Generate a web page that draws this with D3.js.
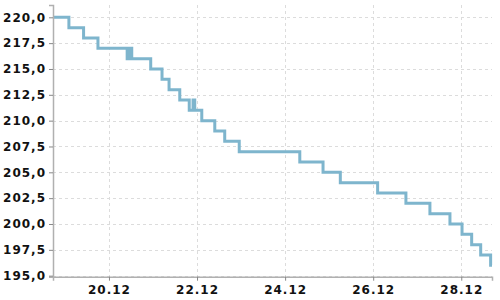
<!doctype html>
<html>
<head>
<meta charset="utf-8">
<script src="https://d3js.org/d3.v7.min.js"></script>
<style>
  body { margin: 0; background: #fff; }
  text { font-family: "DejaVu Sans", sans-serif; }
</style>
</head>
<body>
<script>
// step line data: timestamps (dd.mm HH:MM) and values
var times = ["18.12 17:30", "19.12 02:10", "19.12 10:10", "19.12 18:00", "20.12 09:55", "20.12 11:20",
             "20.12 12:25", "20.12 22:45", "21.12 04:55", "21.12 08:45", "21.12 14:35", "21.12 19:45",
             "21.12 21:50", "21.12 22:45", "22.12 02:35", "22.12 09:40", "22.12 15:05", "22.12 23:00",
             "24.12 08:00", "24.12 20:40", "25.12 06:05", "26.12 02:25", "26.12 17:50", "27.12 06:55",
             "27.12 17:50", "28.12 00:25", "28.12 05:40", "28.12 10:35", "28.12 16:00", "28.12 16:45"];
var values = [220, 219, 218, 217, 216, 217,
              216, 215, 214, 213, 212, 211,
              212, 211, 210, 209, 208, 207,
              206, 205, 204, 203, 202, 201,
              200, 199, 198, 197, 196, 196];
var yTicks = [195, 197.5, 200, 202.5, 205, 207.5, 210, 212.5, 215, 217.5, 220];
var xTickLabels = ["20.12", "22.12", "24.12", "26.12", "28.12"];

var width = 500, height = 300;
var margin = {top: 5, right: 8, bottom: 23.3, left: 53};

var parseTime = d3.timeParse("%d.%m %H:%M %Y");
var data = times.map(function(t, i) {
  return {date: parseTime(t + " 2023"), value: values[i]};
});
var xTicks = xTickLabels.map(function(t) { return parseTime(t + " 00:00 2023"); });

var svg = d3.select("body").append("svg")
  .attr("width", width)
  .attr("height", height);

var xScale = d3.scaleTime()
  .domain(d3.extent(data, d => d.date))
  .range([margin.left, width - margin.right]);

var yScale = d3.scaleLinear()
  .domain([194.9, 221.19])
  .range([height - margin.bottom, margin.top]);

// grid
svg.append("g")
  .selectAll("line")
  .data(yTicks)
  .join("line")
    .attr("x1", margin.left)
    .attr("x2", width - margin.right)
    .attr("y1", d => Math.round(yScale(d)) + 0.5)
    .attr("y2", d => Math.round(yScale(d)) + 0.5)
    .attr("stroke", "#dcdcdc")
    .attr("stroke-dasharray", "3,3");

svg.append("g")
  .selectAll("line")
  .data(xTicks)
  .join("line")
    .attr("x1", d => Math.round(xScale(d)) + 0.5)
    .attr("x2", d => Math.round(xScale(d)) + 0.5)
    .attr("y1", margin.top)
    .attr("y2", height - margin.bottom)
    .attr("stroke", "#dcdcdc")
    .attr("stroke-dasharray", "3,3");

// the step line
svg.append("path")
  .datum(data)
  .attr("fill", "none")
  .attr("stroke", "#7eb5cd")
  .attr("stroke-width", 3)
  .attr("d", d3.line()
    .curve(d3.curveStepAfter)
    .x(d => xScale(d.date))
    .y(d => yScale(d.value)));

// axes
var fmt = d3.format(".1f");
var yAxis = d3.axisLeft(yScale)
  .tickValues(yTicks)
  .tickSize(4)
  .tickPadding(3)
  .tickFormat(d => fmt(d).replace(".", ","));

var xAxis = d3.axisBottom(xScale)
  .tickValues(xTicks)
  .tickSize(4)
  .tickPadding(5)
  .tickFormat(d3.timeFormat("%d.%m"));

var gy = svg.append("g")
  .attr("transform", `translate(${margin.left}, 0)`)
  .call(yAxis);

var gx = svg.append("g")
  .attr("transform", `translate(0, ${height - margin.bottom})`)
  .call(xAxis);

[gx, gy].forEach(function(g) {
  g.select(".domain").attr("stroke", "#b0b0b0").attr("stroke-width", 1.5);
  g.selectAll(".tick line").attr("stroke", "#888");
  g.selectAll(".tick text")
    .attr("fill", "#111")
    .style("font-size", "12px")
    .style("font-weight", "bold")
    .style("letter-spacing", "1px");
});
</script>
</body>
</html>
